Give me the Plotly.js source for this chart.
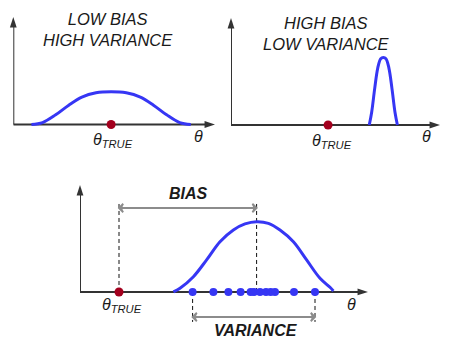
<!DOCTYPE html>
<html><head><meta charset="utf-8">
<script src="https://cdn.plot.ly/plotly-3.0.1.min.js"></script>
<style>html,body{margin:0;padding:0;background:#fff}#chart{width:452px;height:360px}</style>
</head><body><div id="chart"></div>
<script>
// Panel 1: low bias, high variance (sampling distribution of the estimator)
const p1Theta   = [0.9, 1.45, 2.1, 2.75, 3.4, 4.1, 4.85, 5.6, 6.3, 6.95, 7.6, 8.25, 8.8];
const p1Density = [0, 0.018, 0.09, 0.18, 0.255, 0.295, 0.305, 0.295, 0.255, 0.18, 0.09, 0.018, 0];
const p1True = 4.85;
// Panel 2: high bias, low variance
const p2Theta   = [6.88, 7.0, 7.15, 7.3, 7.45, 7.58, 7.71, 7.86, 8.01, 8.16, 8.28];
const p2Density = [0, 0.12, 0.34, 0.53, 0.62, 0.63, 0.62, 0.53, 0.34, 0.12, 0];
const p2True = 4.83;
// Panel 3: bias and variance
const p3Theta   = [4.67, 5.0, 5.67, 6.33, 7.0, 7.67, 8.25, 8.83, 9.42, 10.0, 10.67, 11.33, 12.0, 12.5, 12.67];
const p3Density = [0, 0.035, 0.143, 0.30, 0.47, 0.58, 0.636, 0.657, 0.642, 0.58, 0.47, 0.30, 0.128, 0.044, 0.01];
const p3Estimates = [5.63, 6.67, 7.42, 8.03, 8.53, 8.7, 9.0, 9.3, 9.53, 9.75, 10.7, 11.75];
const p3True = 1.95;
const p3Mean = 8.83;
const titles = ["LOW BIAS<br>HIGH VARIANCE", "HIGH BIAS<br>LOW VARIANCE"];

const FONT = "Liberation Sans, Arial, sans-serif";
const BLUE = "#3636f4", RED = "#a3001e", AX = "#333333", GRAY = "#8c8c8c";
const xMax = [10, 10.4, 14.4];

const traces = [];
function curve(x, y, n) {
  traces.push({x, y, xaxis: "x" + n, yaxis: "y" + n, mode: "lines", type: "scatter",
    line: {color: BLUE, width: 3, shape: "spline", smoothing: 1}, hoverinfo: "skip"});
}
function dots(x, color, n, size) {
  traces.push({x, y: x.map(() => 0), xaxis: "x" + n, yaxis: "y" + n, mode: "markers", type: "scatter",
    cliponaxis: false, marker: {color, size}, hoverinfo: "skip"});
}
function dashed(xv, y0, y1, n) {
  traces.push({x: [xv, xv], y: [y0, y1], xaxis: "x" + n, yaxis: "y" + n, mode: "lines", type: "scatter",
    line: {color: "#111", width: 1, dash: "4px,3px"}, hoverinfo: "skip"});
}
function doubleArrow(x0, x1, yv, n) {
  traces.push({x: [x0, x1], y: [yv, yv], xaxis: "x" + n, yaxis: "y" + n, mode: "lines+markers", type: "scatter",
    cliponaxis: false, line: {color: GRAY, width: 1.8},
    marker: {symbol: "arrow-wide-open", angle: [-90, 90], size: 6, color: GRAY, line: {color: GRAY, width: 1.8}},
    hoverinfo: "skip"});
}
const shapes = [];
function axes(n, xm) {
  const xr = "x" + n, yr = "y" + n;
  shapes.push({type: "line", xref: xr, yref: yr, x0: 0, y0: 0, x1: xm - 0.3, y1: 0, layer: "below",
    line: {color: AX, width: 2}});
  shapes.push({type: "line", xref: xr, yref: yr, x0: 0, y0: 0, x1: 0, y1: 0.95, layer: "below",
    line: {color: AX, width: 2}});
  traces.push({x: [xm, 0], y: [0, 1], xaxis: xr, yaxis: yr, mode: "markers", type: "scatter",
    cliponaxis: false, marker: {symbol: "arrow", angle: [90, 0], size: 11, color: AX, line: {width: 0}},
    hoverinfo: "skip"});
}
axes("", xMax[0]); axes("2", xMax[1]); axes("3", xMax[2]);

curve(p1Theta, p1Density, "");
dots([p1True], RED, "", 9);
curve(p2Theta, p2Density, "2");
dots([p2True], RED, "2", 9);
dashed(p3True, 0, 0.83, "3");
dashed(p3Mean, 0, 0.83, "3");
dashed(p3Estimates[0], 0, -0.28, "3");
dashed(p3Estimates[p3Estimates.length - 1], 0, -0.28, "3");
doubleArrow(p3True, p3Mean, 0.785, "3");
doubleArrow(p3Estimates[0], p3Estimates[p3Estimates.length - 1], -0.234, "3");
curve(p3Theta, p3Density, "3");
dots(p3Estimates, BLUE, "3", 8);
dots([p3True], RED, "3", 9);

const annotations = [];
function text(n, x, y, t, size) {
  annotations.push({xref: "x" + n, yref: "y" + n, x, y, text: t, showarrow: false,
    font: {family: FONT, size, color: "#1a1a1a"}, xanchor: "center", yanchor: "middle"});
}
const thTrue = "<i>θ</i><sub><i>TRUE</i></sub>";
text("", 4.71, 0.882, "<i>" + titles[0] + "</i>", 16.5);
text("2", 4.73, 0.857, "<i>" + titles[1] + "</i>", 16.5);
text("", 4.94, -0.15, thTrue, 16);
text("2", 5.02, -0.15, thTrue, 16);
text("3", 2.12, -0.13, thTrue, 16);
text("", 9.17, -0.116, "<i>θ</i>", 16);
text("2", 9.74, -0.11, "<i>θ</i>", 16);
text("3", 13.58, -0.12, "<i>θ</i>", 16);
text("3", 5.42, 0.925, "<b><i>BIAS</i></b>", 16);
text("3", 8.79, -0.36, "<b><i>VARIANCE</i></b>", 16);

function ax(domain, range) {
  return {domain, range, showgrid: false, zeroline: false, showline: false, showticklabels: false,
    ticks: "", fixedrange: true};
}
const layout = {
  width: 452, height: 360, margin: {l: 0, r: 0, t: 0, b: 0},
  paper_bgcolor: "#fff", plot_bgcolor: "rgba(0,0,0,0)", showlegend: false,
  font: {family: FONT},
  xaxis: ax([13.3 / 452, 215 / 452], [0, xMax[0]]),
  yaxis: ax([1 - 151.4 / 360, 1 - 17 / 360], [-0.25, 1]),
  xaxis2: Object.assign(ax([231 / 452, 440 / 452], [0, xMax[1]]), {anchor: "y2"}),
  yaxis2: Object.assign(ax([1 - 151.75 / 360, 1 - 18 / 360], [-0.25, 1]), {anchor: "x2"}),
  xaxis3: Object.assign(ax([80 / 452, 368 / 452], [0, xMax[2]]), {anchor: "y3"}),
  yaxis3: Object.assign(ax([1 - 336.9 / 360, 1 - 185 / 360], [-0.42, 1]), {anchor: "x3"}),
  shapes, annotations
};
Plotly.newPlot("chart", traces, layout, {staticPlot: true, displayModeBar: false}).then(() => {
  document.querySelectorAll("#chart text").forEach(t => {
    if (!t.textContent.trim()) t.remove();
  });
});
</script></body></html>
